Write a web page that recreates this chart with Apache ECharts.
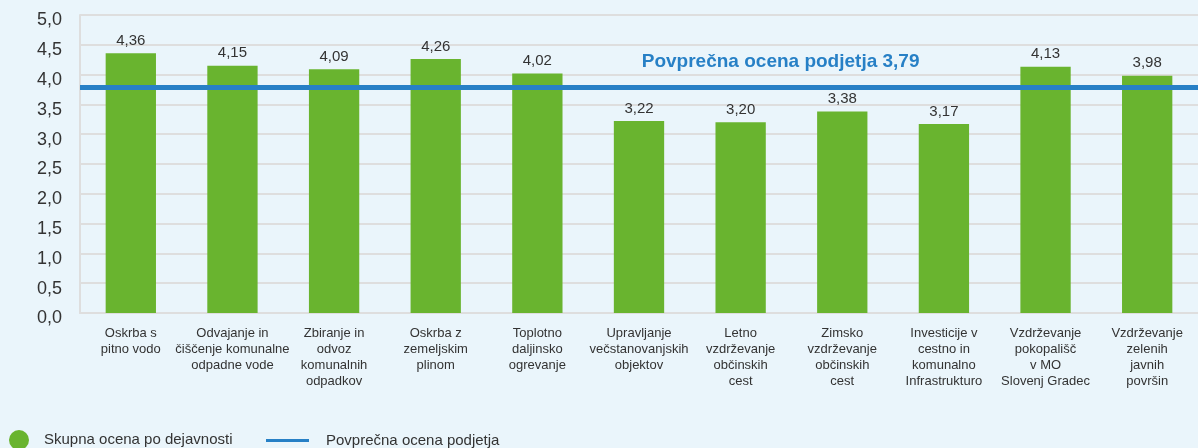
<!DOCTYPE html>
<html>
<head>
<meta charset="utf-8">
<script src="https://cdn.jsdelivr.net/npm/echarts@6/dist/echarts.min.js"></script>
<style>
  html, body { margin: 0; padding: 0; background: #eaf5fb; }
  #chart { width: 1198px; height: 448px; }
</style>
</head>
<body>
<div id="chart"></div>
<script>
// Dejavnosti (kategorije na osi X)
const categories = [
  'Oskrba s\npitno vodo',
  'Odvajanje in\nčiščenje komunalne\nodpadne vode',
  'Zbiranje in\nodvoz\nkomunalnih\nodpadkov',
  'Oskrba z\nzemeljskim\nplinom',
  'Toplotno\ndaljinsko\nogrevanje',
  'Upravljanje\nvečstanovanjskih\nobjektov',
  'Letno\nvzdrževanje\nobčinskih\ncest',
  'Zimsko\nvzdrževanje\nobčinskih\ncest',
  'Investicije v\ncestno in\nkomunalno\nInfrastrukturo',
  'Vzdrževanje\npokopališč\nv MO\nSlovenj Gradec',
  'Vzdrževanje\nzelenih\njavnih\npovršin'
];

// Skupna ocena po dejavnosti
const scores = [4.36, 4.15, 4.09, 4.26, 4.02, 3.22, 3.20, 3.38, 3.17, 4.13, 3.98];

// Povprečna ocena podjetja
const companyAverage = 3.79;

// Oznake na osi Y
const yTicks = [0, 0.5, 1, 1.5, 2, 2.5, 3, 3.5, 4, 4.5, 5];

const barName = 'Skupna ocena po dejavnosti';
const avgName = 'Povprečna ocena podjetja';

const fmt = v => v.toFixed(2).replace('.', ',');
const fmt1 = v => v.toFixed(1).replace('.', ',');

const FONT = '"Liberation Sans", Arial, sans-serif';
const GREEN = '#69b42f';
const BLUE = '#2780c6';

const chart = echarts.init(document.getElementById('chart'));
chart.setOption({
  backgroundColor: '#eaf5fb',
  animation: false,
  textStyle: { fontFamily: FONT },
  grid: { left: 80, right: -12, top: 15, bottom: 135, containLabel: false },
  legend: [
    {
      data: [barName],
      left: 9, top: 430, padding: 0,
      icon: 'circle', itemWidth: 20, itemHeight: 20,
      textStyle: { fontSize: 15, color: '#333', fontFamily: FONT, padding: [9, 0, 0, 10] }
    },
    {
      data: [avgName],
      left: 266, top: 433, padding: 0,
      icon: 'rect', itemWidth: 43, itemHeight: 3,
      textStyle: { fontSize: 15, color: '#333', fontFamily: FONT, padding: [5, 0, 0, 12] }
    }
  ],
  xAxis: {
    type: 'category',
    data: categories,
    axisLine: { show: true, lineStyle: { color: '#dedede', width: 2 } },
    axisTick: { show: false },
    axisLabel: {
      interval: 0, margin: 12, fontSize: 13, lineHeight: 16,
      color: '#333', fontFamily: FONT, align: 'center'
    }
  },
  yAxis: {
    type: 'value',
    min: yTicks[0], max: yTicks[yTicks.length - 1], interval: 0.5,
    axisLine: { show: true, lineStyle: { color: '#dedede', width: 2 } },
    axisTick: { show: false },
    splitLine: { lineStyle: { color: '#dedede', width: 2 } },
    axisLabel: {
      margin: 18, fontSize: 18, color: '#333', fontFamily: FONT,
      verticalAlign: 'top', lineHeight: 11,
      formatter: v => fmt1(v)
    }
  },
  series: [
    {
      name: barName,
      type: 'bar',
      data: scores,
      barWidth: '49.5%',
      itemStyle: { color: GREEN },
      label: {
        show: true, position: 'top', distance: 5,
        fontSize: 15, color: '#333', fontFamily: FONT,
        formatter: p => fmt(p.value)
      }
    },
    {
      name: avgName,
      type: 'line',
      data: [],
      itemStyle: { color: BLUE },
      lineStyle: { color: BLUE },
      markLine: {
        silent: true,
        symbol: 'none',
        lineStyle: { color: BLUE, width: 5, type: 'solid' },
        label: { show: false },
        data: [{ yAxis: companyAverage }]
      },
      markPoint: {
        silent: true,
        symbol: 'circle', symbolSize: 0,
        label: {
          show: true,
          offset: [40, -25],
          fontSize: 19, fontWeight: 'bold', color: BLUE, fontFamily: FONT,
          formatter: () => avgName + ' ' + fmt(companyAverage)
        },
        data: [{ coord: [6, companyAverage] }]
      }
    }
  ]
});
</script>
</body>
</html>
